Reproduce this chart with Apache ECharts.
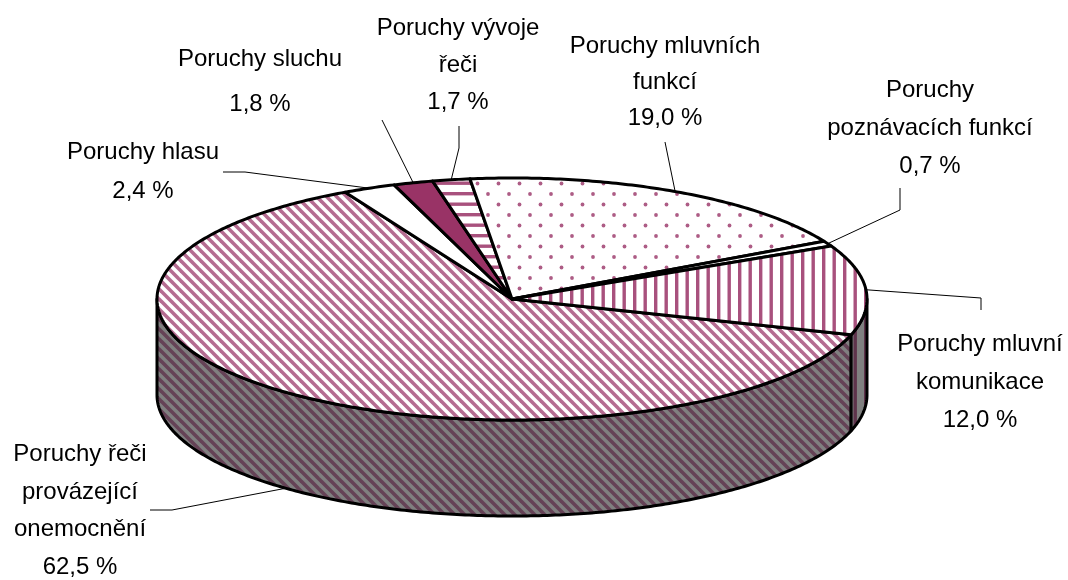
<!DOCTYPE html>
<html><head><meta charset="utf-8">
<style>html,body{margin:0;padding:0;background:#fff}#c{width:1068px;height:580px}</style>
<script src="https://cdn.jsdelivr.net/npm/echarts@6/dist/echarts.min.js"></script>
</head><body><div id="c"></div>
<script>
// Data: clockwise from the start angle
const categories = ['Poruchy řeči\nprovázející\nonemocnění','Poruchy hlasu','Poruchy sluchu','Poruchy vývoje\nřeči','Poruchy mluvních\nfunkcí','Poruchy\npoznávacích funkcí','Poruchy mluvní\nkomunikace'];
const values = [62.5, 2.4, 1.8, 1.7, 19.0, 0.7, 12.0];
const valueLabels = ['62,5 %','2,4 %','1,8 %','1,7 %','19,0 %','0,7 %','12,0 %'];
const patterns = ['diag','white','solid','hstripe','dots','white','vstripe'];
// Layout
const labelCenters = [[80,511],[143,172],[260,82],[458,65],[665,82],[930,128],[980,382]];
const labelLineHeights = [37.5,39,45,37,36,38,38];
const leaderKnees = [[[150,510],[172,510]],[[223,172],[245,172]],[[382,120]],[[459,126],[459,148]],[[665,142]],[[900,188],[900,210]],[[981,310],[981,298]]];
const PIE = {cx:512, cy:299, rx:355, ry:121, depth:96, start:17.2};
const MAROON = '#993366', DARK = '#5a2a45', GREY = '#808080';

function tile(size, bg, draw){
  const c = document.createElement('canvas'); c.width = c.height = size;
  const g = c.getContext('2d');
  if (bg){ g.fillStyle = bg; g.fillRect(0,0,size,size); }
  draw(g, size);
  return {image:c, repeat:'repeat'};
}
function diag(color,bg){ return tile(20,bg,(g,s)=>{
  g.strokeStyle=color; g.lineWidth=3.6; g.globalAlpha=.72;
  for(let k=-2;k<=2;k++){ g.beginPath(); g.moveTo(k*10-5,-5); g.lineTo(k*10+s+5,s+5); g.stroke(); }
});}
function vert(color,bg,a){ return tile(21,bg,(g,s)=>{
  g.fillStyle=color; g.globalAlpha=a;
  g.fillRect(3,0,3.4,s); g.fillRect(13.5,0,3.4,s);
});}
const fills = {
  white:'#fff', solid:MAROON,
  diag:diag(MAROON,'#fff'),
  hstripe:tile(21,'#fff',(g,s)=>{g.fillStyle=MAROON;g.globalAlpha=.85;g.fillRect(0,3,s,3.4);g.fillRect(0,13.5,s,3.4);}),
  vstripe:vert(MAROON,'#fff',.85),
  dots:tile(21,'#fff',(g)=>{g.fillStyle=MAROON;g.globalAlpha=.8;
    [[5,5],[15.5,15.5]].forEach(p=>{g.beginPath();g.arc(p[0],p[1],1.9,0,7);g.fill();});})
};
const wallFills = {diag:diag(DARK,GREY), vstripe:vert(DARK,GREY,.9)};

const total = values.reduce((a,b)=>a+b,0);
const spans = []; let acc = PIE.start;
values.forEach(v=>{ const d=v/total*360; spans.push([acc,acc+d]); acc+=d; });
function pt(deg,off){ const r=deg*Math.PI/180;
  return [PIE.cx+PIE.rx*Math.cos(r), PIE.cy+PIE.ry*Math.sin(r)+(off||0)]; }
function arc(a,b,off){ const n=Math.max(2,Math.ceil(Math.abs(b-a)*1.5)), o=[];
  for(let i=0;i<=n;i++) o.push(pt(a+(b-a)*i/n,off)); return o; }
function wallRange(s){ // clip to the front half
  let a=s[0], b=s[1];
  if(b>360){ a=360; } else { b=Math.min(b,180); }
  return a<b ? [a,b] : null;
}
const stroke = {stroke:'#000', lineWidth:3, lineJoin:'round'};

const option = {
  animation:false, backgroundColor:'#fff',
  series:[
    {type:'custom', name:'wall', coordinateSystem:'none', silent:true, z:1,
     data:values.map((v,i)=>[i,v]),
     renderItem(p,api){
       const i=api.value(0), w=wallRange(spans[i]);
       if(!w) return {type:'group',children:[]};
       const pts=arc(w[0],w[1]).concat(arc(w[1],w[0],PIE.depth));
       return {type:'polygon',shape:{points:pts},style:Object.assign({fill:wallFills[patterns[i]]||GREY},stroke)};
     }},
    {type:'custom', name:'top', coordinateSystem:'none', silent:true, z:2,
     data:values.map((v,i)=>[i,v]),
     renderItem(p,api){
       const i=api.value(0), s=spans[i];
       const pts=[[PIE.cx,PIE.cy]].concat(arc(s[0],s[1]));
       return {type:'polygon',shape:{points:pts},style:Object.assign({fill:fills[patterns[i]]},stroke)};
     }},
    {type:'custom', name:'labels', coordinateSystem:'none', silent:true, z:3,
     data:values.map((v,i)=>[i,v]),
     renderItem(p,api){
       const i=api.value(0), s=spans[i], mid=(s[0]+s[1])/2;
       const end=pt(mid, (mid>0&&mid<180)?PIE.depth:0);
       return {type:'group',children:[
         {type:'polyline',shape:{points:leaderKnees[i].concat([end])},style:{stroke:'#000',lineWidth:1,fill:null}},
         {type:'text',style:{text:categories[i]+'\n'+valueLabels[i],x:labelCenters[i][0],y:labelCenters[i][1],
           fill:'#000',font:'24px "Liberation Sans", Arial, sans-serif',align:'center',verticalAlign:'middle',lineHeight:labelLineHeights[i]}}
       ]};
     }}
  ]
};
echarts.init(document.getElementById('c'),null,{renderer:'canvas'}).setOption(option);
</script></body></html>
